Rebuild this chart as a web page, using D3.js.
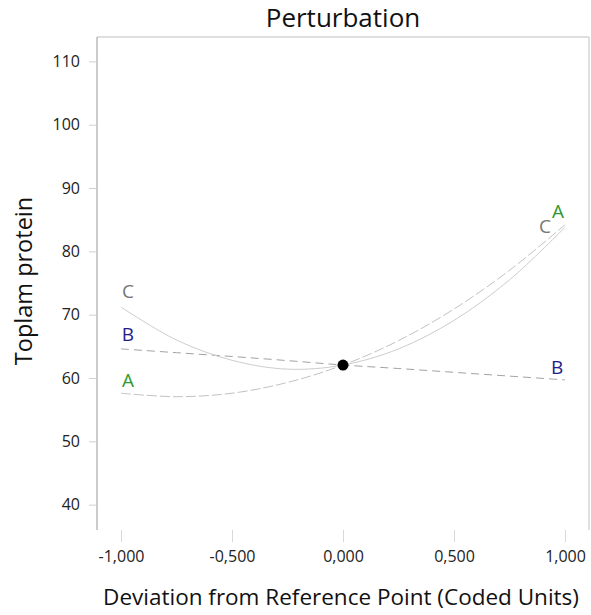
<!DOCTYPE html>
<html>
<head>
<meta charset="utf-8">
<script src="https://cdn.jsdelivr.net/npm/d3@7/dist/d3.min.js"></script>
<style>
  html, body { margin: 0; padding: 0; background: #fff; }
  svg { display: block; }
  svg text { font-family: "Open Sans", "Noto Sans", sans-serif; }
</style>
</head>
<body>
<svg id="chart" width="591" height="615"></svg>
<script>
// ---- Data ----
const xValues = [-1, -0.75, -0.5, -0.25, 0, 0.25, 0.5, 0.75, 1];
const seriesA = [57.6, 57.05, 57.6, 59.3, 62.05, 65.9, 70.9, 77.0, 84.2];
const seriesB = [64.6, 64.0, 63.4, 62.75, 62.05, 61.5, 60.9, 60.3, 59.7];
const seriesC = [71.2, 66.0, 62.8, 61.4, 62.05, 64.6, 69.1, 75.5, 83.8];
const seriesNames = ["A", "B", "C"];
const xTicks = [-1, -0.5, 0, 0.5, 1];
const xTickLabels = ["-1,000", "-0,500", "0,000", "0,500", "1,000"];
const yTicks = [40, 50, 60, 70, 80, 90, 100, 110];
const refPoint = [0, 62.05];
const titleText = "Perturbation";
const xTitle = "Deviation from Reference Point (Coded Units)";
const yTitle = "Toplam protein";

(function () {
// ---- Layout ----
const svg = d3.select("#chart");
const pL = 97, pR = 589, pT = 37, pB = 530;

const x = d3.scaleLinear().domain([-1.108, 1.108]).range([pL, pR]);
const y = d3.scaleLinear().domain([36, 113.85]).range([pB, pT]);

// frame (top + right light, left axis darker)
svg.append("line").attr("x1", pL).attr("x2", pR).attr("y1", pT).attr("y2", pT)
  .attr("stroke", "#d4d4d4").attr("stroke-width", 1.5);
svg.append("line").attr("x1", pR).attr("x2", pR).attr("y1", pT).attr("y2", pB)
  .attr("stroke", "#d4d4d4").attr("stroke-width", 1.5);

// y axis
const yAxis = svg.append("g").attr("transform", `translate(${pL},0)`)
  .call(d3.axisLeft(y).tickValues(yTicks).tickSize(8).tickPadding(9).tickFormat(d3.format("d")));
yAxis.attr("font-family", null).attr("font-size", null);
yAxis.select(".domain").attr("stroke", "#aaaaaa").attr("stroke-width", 1.2).attr("d", `M0,${pT}V${pB}`);
yAxis.selectAll(".tick line").attr("stroke", "#d0d0d0");
yAxis.selectAll(".tick text").attr("fill", "#222").style("font-size", "16px");

// x axis (ticks only, no baseline)
const xAxis = svg.append("g").attr("transform", `translate(0,${pB})`)
  .call(d3.axisBottom(x).tickValues(xTicks).tickSize(12).tickPadding(9)
    .tickFormat((d, i) => xTickLabels[i]));
xAxis.attr("font-family", null).attr("font-size", null);
xAxis.select(".domain").remove();
xAxis.selectAll(".tick line").attr("stroke", "#d8d8d8");
xAxis.selectAll(".tick text").attr("fill", "#222").style("font-size", "16px");

// curves
const series = { A: seriesA, B: seriesB, C: seriesC };
const styles = {
  A: { stroke: "#c2c2c2", dash: "10,3", color: "#2e9a2e" },
  B: { stroke: "#a2a2a2", dash: "8,5", color: "#1e1e88" },
  C: { stroke: "#cdcdcd", dash: null, color: "#777777" }
};
const line = d3.line().x((d, i) => x(xValues[i])).y(d => y(d)).curve(d3.curveCatmullRom.alpha(0.5));
seriesNames.forEach(name => {
  svg.append("path").datum(series[name])
    .attr("d", line)
    .attr("fill", "none")
    .attr("stroke", styles[name].stroke)
    .attr("stroke-width", 1)
    .attr("stroke-dasharray", styles[name].dash);
});

// series labels at both ends
const labelOffsets = {
  A: { l: [7, -13], r: [-7, -14] },
  B: { l: [7, -15], r: [-8, -13] },
  C: { l: [7, -16], r: [-20, -1] }
};
seriesNames.forEach(name => {
  const vals = series[name];
  const n = vals.length;
  const o = labelOffsets[name];
  svg.append("text")
    .attr("x", x(xValues[0]) + o.l[0]).attr("y", y(vals[0]) + o.l[1])
    .attr("text-anchor", "middle").attr("dominant-baseline", "central")
    .attr("fill", styles[name].color).style("font-size", "19px").text(name);
  svg.append("text")
    .attr("x", x(xValues[n - 1]) + o.r[0]).attr("y", y(vals[n - 1]) + o.r[1])
    .attr("text-anchor", "middle").attr("dominant-baseline", "central")
    .attr("fill", styles[name].color).style("font-size", "19px").text(name);
});

// reference point
svg.append("circle").attr("cx", x(refPoint[0])).attr("cy", y(refPoint[1])).attr("r", 5.5).attr("fill", "#000");

// titles
svg.append("text").attr("x", 343).attr("y", 27).attr("text-anchor", "middle")
  .attr("fill", "#111").style("font-size", "26px").text(titleText);
svg.append("text").attr("x", 341).attr("y", 605).attr("text-anchor", "middle")
  .attr("fill", "#111").style("font-size", "22.5px").text(xTitle);
svg.append("text").attr("transform", `translate(32,${(202 + 360) / 2}) rotate(-90)`)
  .attr("text-anchor", "middle").attr("fill", "#111").style("font-size", "23.5px").text(yTitle);
})();
</script>
</body>
</html>
